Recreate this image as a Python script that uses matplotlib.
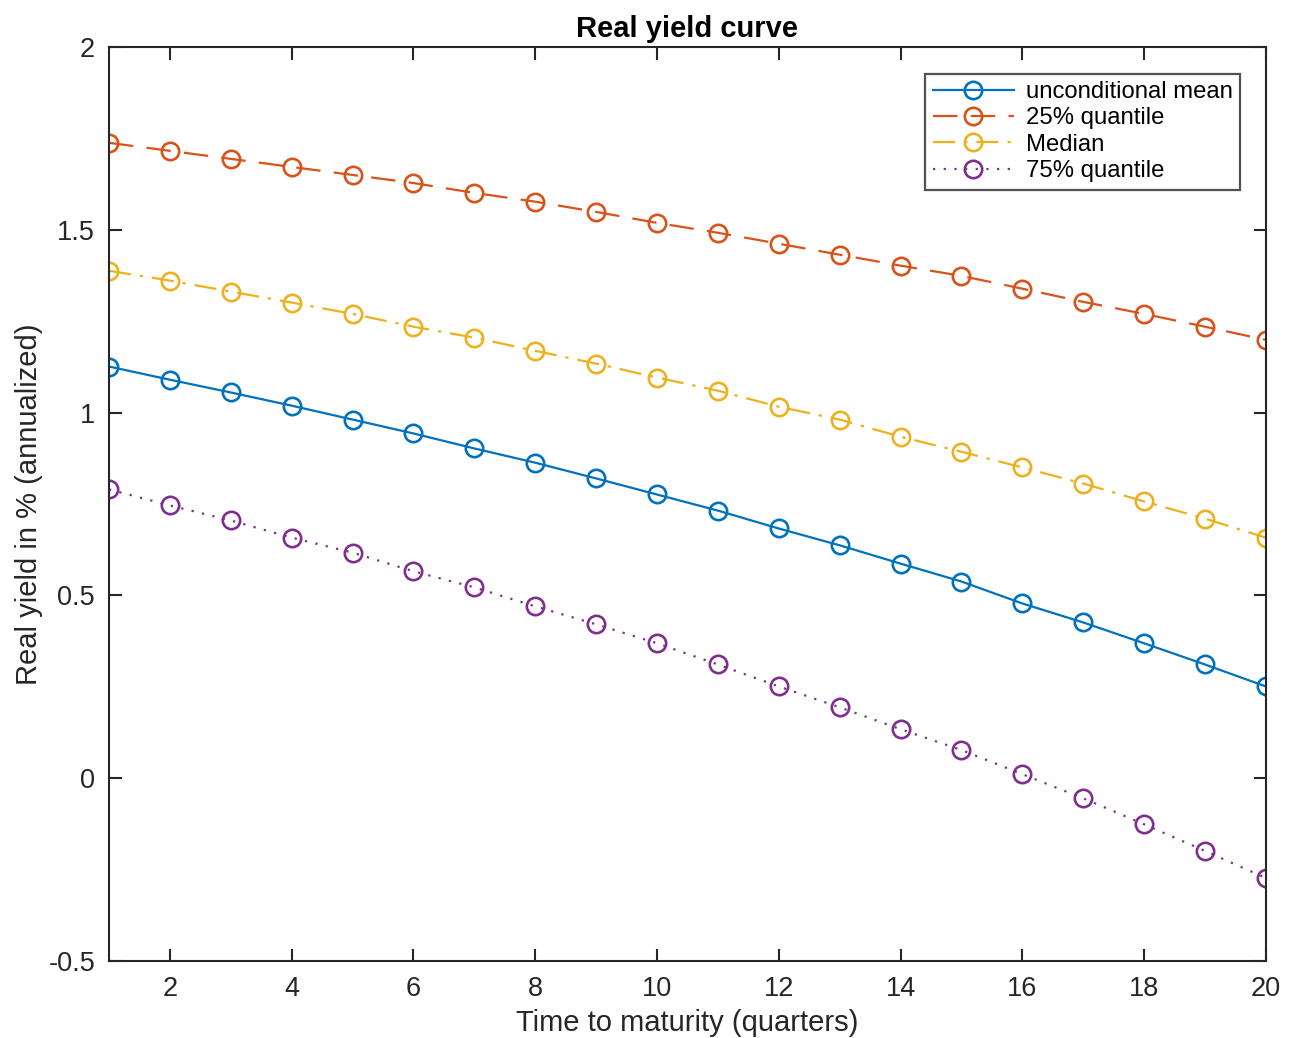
import numpy as np
import matplotlib
matplotlib.use("Agg")
import matplotlib.pyplot as plt
from matplotlib.ticker import FuncFormatter

plt.rcParams['font.family'] = ['Liberation Sans', 'DejaVu Sans']

# maturities in quarters
maturity = list(range(1, 21))

# real yields (annualized, %)
uncond_mean = [1.126, 1.090, 1.055, 1.019, 0.981, 0.943, 0.902, 0.863, 0.820, 0.776,
               0.732, 0.683, 0.637, 0.587, 0.538, 0.478, 0.426, 0.369, 0.311, 0.251]
q25 = [1.738, 1.716, 1.694, 1.672, 1.650, 1.628, 1.601, 1.577, 1.549, 1.519,
       1.492, 1.462, 1.432, 1.402, 1.374, 1.339, 1.303, 1.270, 1.235, 1.199]
median = [1.388, 1.361, 1.331, 1.301, 1.270, 1.235, 1.205, 1.169, 1.134, 1.096,
          1.060, 1.016, 0.981, 0.934, 0.893, 0.850, 0.806, 0.757, 0.710, 0.658]
q75 = [0.790, 0.746, 0.705, 0.658, 0.617, 0.566, 0.522, 0.470, 0.421, 0.369,
       0.311, 0.251, 0.194, 0.134, 0.077, 0.011, -0.055, -0.126, -0.199, -0.273]

series = [
    ('unconditional mean', uncond_mean, '#0072BD', '-'),
    ('25% quantile', q25, '#D95319', (0, (11, 6))),
    ('Median', median, '#EDB120', (0, (10, 4, 1.5, 4))),
    ('75% quantile', q75, '#7E2F8E', (0, (1, 3.8))),
]

fig = plt.figure(figsize=(12.93, 10.38), dpi=100)
ax = fig.add_axes([0.0843, 0.0742, 0.8947, 0.8805])

for label, vals, color, ls in series:
    ax.plot(maturity, vals, linestyle=ls, color=color, linewidth=1.6,
            marker='o', markersize=12.5, markerfacecolor='none',
            markeredgewidth=1.9, label=label)

ax.set_xlim(1, 20)
ax.set_ylim(-0.5, 2)
ax.set_xticks(range(2, 21, 2))
ax.set_yticks(np.arange(-0.5, 2.01, 0.5))
ax.yaxis.set_major_formatter(FuncFormatter(lambda v, p: f"{v:g}"))

ax.tick_params(direction='in', length=9, width=1.5, top=True, right=True,
               labelsize=19.5, colors='#262626')
ax.tick_params(axis='x', pad=11)
ax.tick_params(axis='y', pad=10)
for sp in ax.spines.values():
    sp.set_linewidth(1.5)
    sp.set_color('#262626')

ax.set_xlabel('Time to maturity (quarters)', fontsize=21, color='#262626', labelpad=5)
ax.set_ylabel('Real yield in % (annualized)', fontsize=21, color='#262626', labelpad=4)
ax.set_title('Real yield curve', fontsize=21, fontweight='bold', pad=7)

leg = ax.legend(loc='upper right', fontsize=17.2, frameon=True, fancybox=False,
                edgecolor='#262626', handlelength=3.4, borderpad=0.32,
                labelspacing=0.18, handletextpad=0.5, borderaxespad=0,
                bbox_to_anchor=(0.978, 0.971))
leg.get_frame().set_linewidth(1.6)

fig.savefig('out.png', dpi=100, facecolor='white')
